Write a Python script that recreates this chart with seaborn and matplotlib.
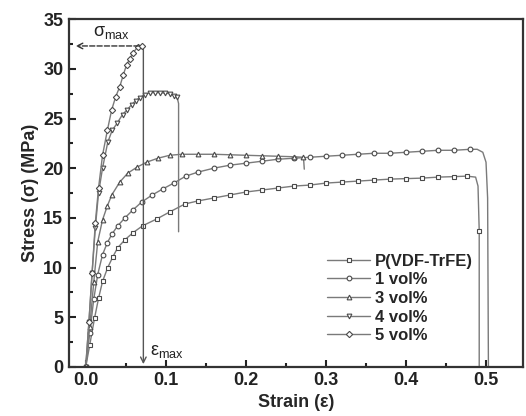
import numpy as np
import pandas as pd
import seaborn as sns
import matplotlib.pyplot as plt
from matplotlib.ticker import MultipleLocator

# P(VDF-TrFE) (squares)
strain_p = [0.0, 0.005, 0.011, 0.016, 0.021, 0.0275, 0.034, 0.040, 0.049, 0.059, 0.071, 0.089,
            0.105, 0.124, 0.14, 0.16, 0.18, 0.20, 0.22, 0.24, 0.26, 0.28, 0.30, 0.32, 0.34,
            0.36, 0.38, 0.40, 0.42, 0.44, 0.46, 0.476, 0.487, 0.490, 0.4915, 0.4915]
stress_p = [0.0, 2.2, 4.9, 6.9, 8.6, 10.0, 11.1, 12.0, 12.8, 13.5, 14.2, 14.9,
            15.6, 16.4, 16.7, 17.0, 17.3, 17.6, 17.8, 18.0, 18.2, 18.3, 18.5, 18.6, 18.7,
            18.8, 18.9, 18.95, 19.0, 19.1, 19.15, 19.2, 19.1, 18.2, 13.7, 0.0]
# 1 vol% (circles)
strain_1 = [0.0, 0.005, 0.010, 0.015, 0.021, 0.027, 0.033, 0.040, 0.049, 0.059, 0.070, 0.083,
            0.096, 0.11, 0.125, 0.14, 0.16, 0.18, 0.20, 0.22, 0.24, 0.26, 0.28, 0.30, 0.32,
            0.34, 0.36, 0.38, 0.40, 0.42, 0.44, 0.46, 0.48, 0.489, 0.496, 0.500, 0.502, 0.503]
stress_1 = [0.0, 3.4, 6.8, 9.3, 11.3, 12.5, 13.4, 14.2, 15.0, 15.8, 16.6, 17.3,
            17.9, 18.5, 19.2, 19.6, 20.0, 20.3, 20.5, 20.7, 20.9, 21.0, 21.1, 21.2, 21.3,
            21.4, 21.5, 21.5, 21.6, 21.7, 21.8, 21.8, 21.9, 21.9, 21.6, 20.6, 17.0, 0.0]
# 3 vol% (triangles up)
strain_3 = [0.0, 0.005, 0.010, 0.015, 0.021, 0.027, 0.0325, 0.0425, 0.0525, 0.064, 0.076, 0.09,
            0.105, 0.12, 0.14, 0.16, 0.18, 0.20, 0.22, 0.24, 0.26, 0.272, 0.273]
stress_3 = [0.0, 4.0, 8.5, 12.6, 14.8, 16.2, 17.3, 18.6, 19.5, 20.1, 20.6, 21.0,
            21.3, 21.4, 21.4, 21.4, 21.35, 21.3, 21.25, 21.2, 21.15, 21.1, 19.9]
# 4 vol% (triangles down)
strain_4 = [0.0, 0.004, 0.008, 0.012, 0.016, 0.021, 0.0275, 0.033, 0.039, 0.046, 0.052, 0.0575,
            0.0625, 0.0675, 0.074, 0.080, 0.086, 0.0925, 0.099, 0.105, 0.110, 0.114, 0.116, 0.116]
stress_4 = [0.0, 4.5, 9.5, 14.0, 17.5, 20.0, 22.6, 23.8, 24.5, 25.4, 25.9, 26.4,
            26.8, 27.1, 27.4, 27.6, 27.6, 27.6, 27.55, 27.5, 27.3, 27.2, 26.5, 13.6]
# 5 vol% (diamonds)
strain_5 = [0.0, 0.004, 0.008, 0.012, 0.016, 0.021, 0.027, 0.0325, 0.0375, 0.0425, 0.047, 0.051,
            0.055, 0.059, 0.065, 0.070]
stress_5 = [0.0, 4.5, 9.5, 14.5, 18.0, 21.3, 23.8, 25.9, 27.2, 28.2, 29.4, 30.4,
            31.0, 31.6, 32.2, 32.3]

series = [('P(VDF-TrFE)', strain_p, stress_p, 's', 4),
          ('1 vol%', strain_1, stress_1, 'o', 5),
          ('3 vol%', strain_3, stress_3, '^', 1),
          ('4 vol%', strain_4, stress_4, 'v', 2),
          ('5 vol%', strain_5, stress_5, 'D', 0)]

sns.set_style('ticks')
plt.rcParams['font.family'] = ['Liberation Sans', 'DejaVu Sans']
plt.rcParams['mathtext.fontset'] = 'custom'
plt.rcParams['mathtext.rm'] = 'Liberation Sans'
plt.rcParams['mathtext.it'] = 'Liberation Sans'

fig = plt.figure(figsize=(5.26, 4.16), dpi=100)
ax = fig.add_axes([0.131, 0.118, 0.863, 0.836])

line_col = '#7a7a7a'
mk_col = '#4a4a4a'
for name, x, y, mk, ndrop in series:
    df = pd.DataFrame({'strain': x, 'stress': y})
    n = len(x)
    if name == 'P(VDF-TrFE)':
        every = list(range(n - 4)) + [n - 2]
    else:
        every = list(range(n - ndrop))
    sns.lineplot(data=df, x='strain', y='stress', ax=ax, sort=False, estimator=None,
                 color=line_col, lw=1.0, marker=mk, markersize=3.4 if mk != 'D' else 3.2,
                 markerfacecolor='white', markeredgecolor=mk_col, markeredgewidth=0.8,
                 markevery=every, label=name)

# sigma_max / eps_max annotations from the 5 vol% data
i_max = int(np.argmax(stress_5))
eps_max = strain_5[i_max] + 0.002
sig_max = stress_5[i_max]
ax.annotate('', xy=(-0.016, sig_max), xytext=(strain_5[i_max], sig_max),
            arrowprops=dict(arrowstyle='->', color='#333333', lw=1.0, ls='--'))
ax.annotate('', xy=(eps_max, 0), xytext=(eps_max, sig_max),
            arrowprops=dict(arrowstyle='->', color='#555555', lw=1.0))
ax.text(0.009, 33.3, r'$\sigma_{\mathrm{max}}$', fontsize=13, color='#222222')
ax.text(0.080, 1.2, r'$\varepsilon_{\mathrm{max}}$', fontsize=13, color='#222222')

ax.set_xlim(-0.021, 0.546)
ax.set_ylim(0, 35)
ax.xaxis.set_major_locator(MultipleLocator(0.1))
ax.xaxis.set_minor_locator(MultipleLocator(0.05))
ax.yaxis.set_major_locator(MultipleLocator(5))
ax.yaxis.set_minor_locator(MultipleLocator(2.5))
ax.xaxis.set_major_formatter(lambda v, p: f'{v:.1f}')
ax.tick_params(which='both', direction='in', top=False, right=False, width=1.5,
               colors='#222222', labelsize=13, pad=4)
ax.tick_params(which='major', length=5)
ax.tick_params(which='minor', length=3)
for lab in ax.get_xticklabels() + ax.get_yticklabels():
    lab.set_fontweight('bold')
for s in ax.spines.values():
    s.set_linewidth(1.6)
    s.set_color('#333333')

ax.set_xlabel('Strain (ε)', fontsize=13, fontweight='bold', labelpad=3)
ax.set_ylabel('Stress (σ) (MPa)', fontsize=13, fontweight='bold', labelpad=3)

ax.legend(loc='upper left', bbox_to_anchor=(0.55, 0.35), frameon=False,
          prop={'weight': 'bold', 'size': 12}, handlelength=2.6, handletextpad=0.3,
          labelspacing=0.22, borderpad=0)

fig.savefig('out.png', dpi=100)
